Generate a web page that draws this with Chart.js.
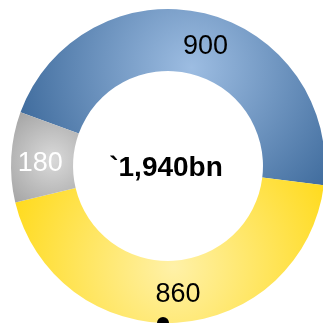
<!DOCTYPE html>
<html>
<head>
<meta charset="utf-8">
<script src="https://cdn.jsdelivr.net/npm/chart.js@4"></script>
<style>
  html, body { margin: 0; padding: 0; background: #fff; overflow: hidden; }
  #wrap { width: 323px; height: 323px; position: relative; overflow: hidden; }
</style>
</head>
<body>
<div id="wrap"><canvas id="donut" width="332" height="332"></canvas></div>
<script>
// chart data
const labels = ['A', 'B', 'C'];
const values = [900, 860, 180];
const centerText = '`1,940bn';

// light centre / dark edge for each slice
const lightColors = ['#9dbde2', '#fff1a8', '#dadada'];
const darkColors = ['#2b5a8e', '#ffd600', '#a2a2a2'];
const labelColors = ['#000000', '#000000', '#ffffff'];
// nudge of each value label from the slice centroid
const labelShiftX = [8, 3, -2];
const labelShiftY = [3, 3, 5];

const ROTATION = -70;
const CUTOUT = 0.605;

// radial gradient per slice, placed near the inner edge in the middle of the slice
function sliceGradient(context) {
    const chart = context.chart;
    const area = chart.chartArea;
    const i = context.dataIndex;
    if (!area) return darkColors[i];
    const cx = (area.left + area.right) / 2;
    const cy = (area.top + area.bottom) / 2;
    const outer = Math.min(area.right - area.left, area.bottom - area.top) / 2;
    const inner = outer * CUTOUT;
    const total = values.reduce((a, b) => a + b, 0);
    let start = 0;
    for (let k = 0; k < i; k++) start += values[k];
    const mid = (ROTATION - 90) * Math.PI / 180 + (start + values[i] / 2) / total * Math.PI * 2;
    const span = values[i] / total * Math.PI * 2;
    const r0 = i === 2 ? (inner + outer) / 2 - 10 : inner + 6;
    const gx = cx + Math.cos(mid) * r0;
    const gy = cy + Math.sin(mid) * r0;
    const gr = i === 2 ? 60 : Math.max(outer * span / 2.1, 60);
    const g = chart.ctx.createRadialGradient(gx, gy, 0, gx, gy, gr);
    g.addColorStop(0, lightColors[i]);
    g.addColorStop(1, darkColors[i]);
    return g;
}

const labelPlugin = {
    id: 'sliceLabels',
    afterDatasetsDraw(chart) {
        const ctx = chart.ctx;
        const meta = chart.getDatasetMeta(0);
        ctx.save();
        ctx.textAlign = 'center';
        ctx.textBaseline = 'middle';
        ctx.font = '27px "Liberation Sans", Arial, sans-serif';
        meta.data.forEach((arc, i) => {
            const p = arc.tooltipPosition();
            ctx.fillStyle = labelColors[i];
            ctx.fillText(String(values[i]), p.x + labelShiftX[i], p.y + labelShiftY[i]);
        });
        const first = meta.data[0];
        ctx.font = 'bold 28px "Liberation Sans", Arial, sans-serif';
        ctx.fillStyle = '#000';
        ctx.fillText(centerText, first.x - 2, first.y + 2);
        // small marker at the bottom of the ring
        ctx.beginPath();
        ctx.arc(first.x - 5, first.y + first.outerRadius, 6, 0, Math.PI * 2);
        ctx.fill();
        ctx.restore();
    }
};

new Chart(document.getElementById('donut'), {
    type: 'doughnut',
    data: {
        labels: labels,
        datasets: [{
            data: values,
            backgroundColor: sliceGradient,
            borderWidth: 0
        }]
    },
    options: {
        responsive: false,
        animation: false,
        rotation: ROTATION,
        cutout: (CUTOUT * 100) + '%',
        layout: { padding: { left: 11, top: 9, right: 7, bottom: 9 } },
        plugins: {
            legend: { display: false },
            tooltip: { enabled: false }
        }
    },
    plugins: [labelPlugin]
});
</script>
</body>
</html>
